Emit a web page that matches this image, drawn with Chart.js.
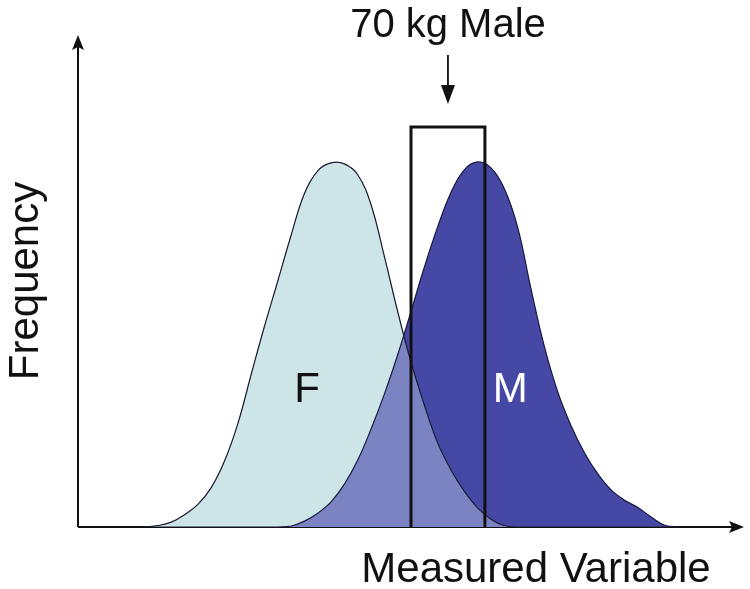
<!DOCTYPE html>
<html lang="en">
<head>
    <meta charset="UTF-8">
    <title>70 kg Male</title>
    <script src="https://cdn.jsdelivr.net/npm/chart.js"></script>
    <style>
        html, body { margin: 0; padding: 0; background: #fff; }
        #wrap { width: 750px; height: 589px; }
    </style>
</head>
<body>
    <div id="wrap"><canvas id="chart"></canvas></div>

    <script>
        // Measured variable (arbitrary units), shared by both curves
        const measured = [10, 12, 14, 16, 18, 20, 22, 24, 26, 28, 30, 32, 34, 36, 38, 40, 42, 44, 46, 48,
                          50, 52, 54, 56, 58, 60, 62, 64, 66, 68, 70, 72, 74, 76, 78, 80, 82, 84, 86, 88, 90];
        // Frequency
        const female = [0, 0.3, 1.0, 2.5, 4.6, 8.0, 13.4, 21.0, 31.0, 40.8, 50.0, 59.3, 67.8, 72.4, 74.0, 73.8,
                        71.6, 65.5, 55.0, 43.8, 33.5, 24.8, 17.1, 11.6, 7.3, 3.9, 1.6, 0.3, 0, 0,
                        0, 0, 0, 0, 0, 0, 0, 0, 0, 0, 0];
        const male = [0, 0, 0, 0, 0, 0, 0, 0, 0, 0, 0, 0.2, 1.2, 2.8, 5.1, 8.7, 13.6, 19.9, 27.0, 35.0,
                      43.8, 52.8, 61.0, 68.0, 72.6, 74.2, 73.0, 68.8, 61.0, 48.5, 36.8, 27.6, 20.7, 15.2,
                      10.9, 7.6, 5.5, 4.0, 2.1, 0.4, 0];
        // the 70 kg male window
        const maleWindow = [50, 61.1];
        const windowTop = 81.3;

        const pts = ys => measured.map((x, i) => ({ x: x, y: ys[i] }));
        const boxPts = [
            { x: maleWindow[0], y: 0 }, { x: maleWindow[0], y: windowTop },
            { x: maleWindow[1], y: windowTop }, { x: maleWindow[1], y: 0 }
        ];

        const FONT = '"Liberation Sans", Arial, sans-serif';
        const CURVE_TENSION = 0.4;

        // axes with arrows, axis titles, curve letters and the top callout
        const decor = {
            id: 'decor',
            beforeDatasetsDraw(chart) {
                const { ctx, chartArea: a } = chart;
                ctx.save();
                ctx.strokeStyle = '#111';
                ctx.fillStyle = '#111';
                ctx.lineWidth = 2;
                ctx.beginPath();
                ctx.moveTo(a.left, a.bottom);
                ctx.lineTo(a.left, a.top + 6);
                ctx.moveTo(a.left, a.bottom);
                ctx.lineTo(a.right - 6, a.bottom);
                ctx.stroke();
                // arrow heads
                ctx.beginPath();
                ctx.moveTo(a.left, a.top);
                ctx.lineTo(a.left - 6, a.top + 15);
                ctx.lineTo(a.left, a.top + 12);
                ctx.lineTo(a.left + 6, a.top + 15);
                ctx.closePath();
                ctx.fill();
                ctx.beginPath();
                ctx.moveTo(a.right, a.bottom);
                ctx.lineTo(a.right - 15, a.bottom - 6);
                ctx.lineTo(a.right - 12, a.bottom);
                ctx.lineTo(a.right - 15, a.bottom + 6);
                ctx.closePath();
                ctx.fill();
                ctx.restore();
            },
            afterDraw(chart) {
                const { ctx, chartArea: a, scales: { x, y } } = chart;
                ctx.save();
                ctx.fillStyle = '#111';
                ctx.font = '42px ' + FONT;
                ctx.textAlign = 'center';
                ctx.textBaseline = 'alphabetic';
                ctx.fillText('Measured Variable', 536, 582);

                ctx.save();
                ctx.translate(38, (a.top + a.bottom) / 2);
                ctx.rotate(-Math.PI / 2);
                ctx.fillText('Frequency', 0, 0);
                ctx.restore();

                // curve letters
                ctx.font = '42px ' + FONT;
                ctx.fillText('F', x.getPixelForValue(34.4), y.getPixelForValue(25.4));
                ctx.fillStyle = '#fff';
                ctx.fillText('M', x.getPixelForValue(64.9), y.getPixelForValue(25.4));

                // callout above the window
                const cx = x.getPixelForValue((maleWindow[0] + maleWindow[1]) / 2);
                const top = y.getPixelForValue(windowTop);
                ctx.fillStyle = '#111';
                ctx.font = '40px ' + FONT;
                ctx.fillText('70 kg Male', cx, 37);
                ctx.strokeStyle = '#111';
                ctx.lineWidth = 1.8;
                ctx.beginPath();
                ctx.moveTo(cx, 55);
                ctx.lineTo(cx, top - 35);
                ctx.stroke();
                ctx.beginPath();
                ctx.moveTo(cx - 7, top - 42);
                ctx.lineTo(cx + 7, top - 42);
                ctx.lineTo(cx, top - 23);
                ctx.closePath();
                ctx.fill();
                ctx.restore();
            }
        };

        new Chart(document.getElementById('chart'), {
            type: 'line',
            data: {
                datasets: [
                    { // 0: F area
                        label: 'F', data: pts(female), order: 4,
                        backgroundColor: '#cde5e7', fill: 'origin',
                        borderWidth: 0, pointRadius: 0, tension: CURVE_TENSION
                    },
                    { // 1: M area (overlap colour everywhere under M)
                        label: 'M base', data: pts(male), order: 3,
                        backgroundColor: '#7b83c2', fill: 'origin',
                        borderWidth: 0, pointRadius: 0, tension: CURVE_TENSION
                    },
                    { // 2: M above F -> dark blue, with M outline
                        label: 'M', data: pts(male), order: 2,
                        fill: { target: 0, above: '#4549a5', below: 'rgba(0,0,0,0)' },
                        borderColor: '#1a1a40', borderWidth: 1.2, pointRadius: 0,
                        tension: CURVE_TENSION
                    },
                    { // 3: F outline on top
                        label: 'F outline', data: pts(female), order: 1, fill: false,
                        borderColor: '#1a1a30', borderWidth: 1.2, pointRadius: 0,
                        tension: CURVE_TENSION
                    },
                    { // 4: 70 kg male window
                        label: 'window', data: boxPts, order: 0, fill: false,
                        borderColor: '#111', borderWidth: 3, pointRadius: 0, tension: 0,
                        borderJoinStyle: 'miter'
                    }
                ]
            },
            options: {
                responsive: true,
                maintainAspectRatio: false,
                animation: false,
                layout: { padding: { left: 78, right: 6, top: 35, bottom: 62 } },
                plugins: {
                    legend: { display: false },
                    tooltip: { enabled: false }
                },
                scales: {
                    x: { type: 'linear', min: 0, max: 100, display: false },
                    y: { min: 0, max: 100, display: false }
                }
            },
            plugins: [decor]
        });
    </script>
</body>
</html>
